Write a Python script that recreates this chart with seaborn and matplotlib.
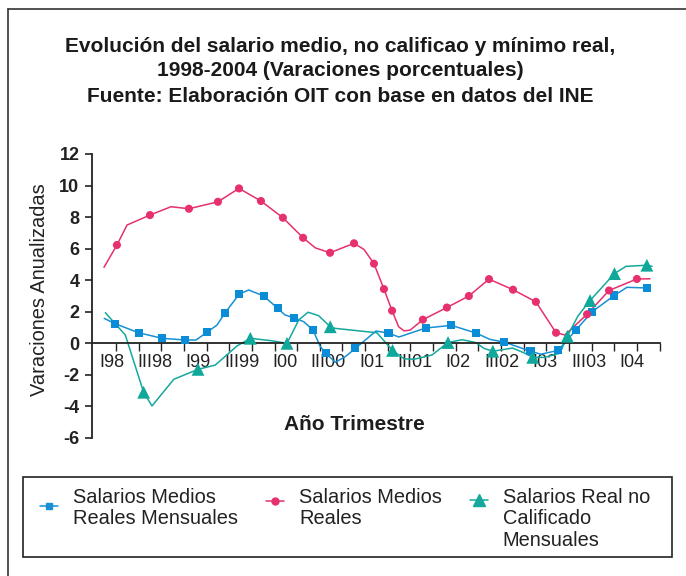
import numpy as np
import seaborn as sns
import matplotlib.pyplot as plt
from matplotlib.lines import Line2D
from matplotlib.patches import Rectangle

# x is measured in quarters along the axis ticks (0 = first tick, I98)
# Salarios Medios Reales Mensuales (line vertices and square markers)
mens_line_x = [-0.52, -0.03, 1.00, 2.03, 3.06, 3.53, 4.02, 4.46, 4.80, 5.44, 5.86, 6.52, 7.14, 7.46,
               7.85, 8.29, 8.70, 9.02, 9.27, 9.68, 10.12, 10.57, 11.48, 12.03, 12.49, 13.67, 14.81,
               15.90, 16.51, 17.14, 18.30, 18.76, 19.52, 20.30, 21.02, 22.00, 22.56, 23.43]
mens_line_y = [1.58, 1.24, 0.67, 0.32, 0.21, 0.21, 0.70, 1.16, 1.90, 3.12, 3.38, 3.00, 2.22, 1.80,
               1.62, 1.37, 0.84, -0.21, -0.63, -1.20, -0.85, -0.32, 0.78, 0.65, 0.40, 0.97, 1.14,
               0.65, 0.25, 0.08, -0.50, -0.69, -0.45, 0.83, 2.00, 3.03, 3.55, 3.51]
mens_mark_x = [-0.03, 1.00, 2.03, 3.06, 4.02, 4.80, 5.44, 6.52, 7.14, 7.85, 8.70, 9.27, 10.57, 12.03,
               13.67, 14.81, 15.90, 17.14, 18.30, 19.52, 20.30, 21.02, 22.00, 23.43]
mens_mark_y = [1.24, 0.67, 0.32, 0.21, 0.70, 1.90, 3.12, 3.00, 2.22, 1.62, 0.84, -0.63, -0.32, 0.65,
               0.97, 1.14, 0.65, 0.08, -0.50, -0.45, 0.83, 2.00, 3.03, 3.51]

# Salarios Medios Reales (circles)
medios_line_x = [-0.53, 0.04, 0.49, 1.50, 2.43, 3.22, 4.50, 5.43, 6.40, 7.37, 8.26, 8.80, 9.45, 10.51,
                 10.95, 11.39, 11.83, 12.19, 12.48, 12.72, 12.99, 13.55, 14.61, 15.58, 16.47, 17.53,
                 18.54, 19.43, 19.82, 20.80, 21.77, 23.00, 23.58]
medios_line_y = [4.82, 6.23, 7.50, 8.13, 8.66, 8.53, 8.97, 9.82, 9.02, 7.96, 6.69, 6.05, 5.74, 6.34,
                 5.95, 5.05, 3.44, 2.07, 1.05, 0.79, 0.84, 1.50, 2.27, 3.00, 4.07, 3.40,
                 2.63, 0.67, 0.53, 1.84, 3.35, 4.08, 4.09]
medios_mark_x = [0.04, 1.50, 3.22, 4.50, 5.43, 6.40, 7.37, 8.26, 9.45, 10.51, 11.39, 11.83, 12.19,
                 13.55, 14.61, 15.58, 16.47, 17.53, 18.54, 19.43, 20.80, 21.77, 23.00]
medios_mark_y = [6.23, 8.13, 8.53, 8.97, 9.82, 9.02, 7.96, 6.69, 5.74, 6.34, 5.05, 3.44, 2.07,
                 1.50, 2.27, 3.00, 4.07, 3.40, 2.63, 0.67, 1.84, 3.35, 4.08]

# Salarios Real no Calificado Mensuales (triangles)
nocal_line_x = [-0.47, 0.41, 1.22, 1.59, 2.55, 3.62, 4.38, 5.34, 5.93, 6.89, 7.55, 8.07, 8.48, 8.95,
                9.46, 9.67, 11.52, 12.21, 12.72, 13.16, 13.95, 14.66, 15.28, 15.89, 16.25, 16.64,
                17.51, 18.06, 18.40, 18.92, 19.60, 19.93, 20.40, 20.93, 22.01, 22.52, 23.44, 23.67]
nocal_line_y = [1.94, 0.53, -3.10, -3.97, -2.28, -1.65, -1.38, -0.17, 0.32, 0.16, 0.00, 1.48, 1.97, 1.75,
                1.05, 0.95, 0.67, -0.45, -0.98, -1.01, -0.74, 0.05, 0.23, 0.05, -0.32, -0.50,
                -0.30, -0.63, -0.89, -0.89, -0.63, 0.45, 1.74, 2.71, 4.42, 4.88, 4.95, 4.88]
nocal_mark_x = [1.22, 3.62, 5.93, 7.55, 9.46, 12.21, 14.66, 16.64, 18.40, 19.93, 20.93, 22.01, 23.44]
nocal_mark_y = [-3.10, -1.65, 0.32, 0.00, 1.05, -0.45, 0.05, -0.50, -0.89, 0.45, 2.71, 4.42, 4.95]

tick_labels = ['I98', 'III98', 'I99', 'III99', 'I00', 'III00', 'I01', 'III01',
               'I02', 'III02', 'I03', 'III03', 'I04']
legend_labels = ['Salarios Medios\nReales Mensuales', 'Salarios Medios\nReales',
                 'Salarios Real no\nCalificado\nMensuales']

c_blue = '#1790d5'
c_pink = '#e6306f'
c_teal = '#15a89c'

sns.set_style('white')
plt.rcParams['font.family'] = ['Liberation Sans', 'DejaVu Sans']
plt.rcParams['axes.unicode_minus'] = False

W, H = 686, 576
fig = plt.figure(figsize=(W / 100, H / 100), dpi=100)
ax = fig.add_axes([92 / W, 1 - 438 / H, 568 / W, 284 / H])

sns.lineplot(x=mens_line_x, y=mens_line_y, color=c_blue, lw=1.1, sort=False, estimator=None, ax=ax)
sns.lineplot(x=medios_line_x, y=medios_line_y, color=c_pink, lw=1.1, sort=False, estimator=None, ax=ax)
sns.lineplot(x=nocal_line_x, y=nocal_line_y, color=c_teal, lw=1.1, sort=False, estimator=None, ax=ax)

sns.scatterplot(x=mens_mark_x, y=mens_mark_y, marker='s', s=34, color='#0a8dd6', edgecolor='none', ax=ax, zorder=4)
sns.scatterplot(x=medios_mark_x, y=medios_mark_y, marker='o', s=34, color=c_pink, edgecolor='none', ax=ax, zorder=4)
sns.scatterplot(x=nocal_mark_x, y=nocal_mark_y, marker='^', s=85, color='#10a89a', edgecolor='none', ax=ax, zorder=4)

ax.set_xlim(-1.06, 24.02)
ax.set_ylim(-6, 12)
ax.set_xlabel('')
ax.set_ylabel('')

for side in ['top', 'right']:
    ax.spines[side].set_visible(False)
ax.spines['bottom'].set_position(('data', 0))
for side in ['left', 'bottom']:
    ax.spines[side].set_color('#222222')
    ax.spines[side].set_linewidth(1.3)
ax.patch.set_alpha(0)

ax.set_yticks(range(-6, 13, 2))
ax.tick_params(axis='y', left=True, direction='out', length=5, width=1.2, pad=4,
               labelsize=13, colors='#222222')
for lab in ax.get_yticklabels():
    lab.set_fontweight('bold')

ax.set_xticks(np.arange(0, 25), minor=True)
ax.set_xticks(np.linspace(-0.2, 22.78, len(tick_labels)))
ax.set_xticklabels(tick_labels)
ax.tick_params(axis='x', which='minor', bottom=True, direction='out', length=6, width=1, colors='#222222')
ax.tick_params(axis='x', which='major', bottom=True, length=0, pad=8, labelsize=13, colors='#222222')

ax.text(0.462, 0.046, 'Año Trimestre', transform=ax.transAxes, ha='center', va='center',
        fontsize=15, fontweight='bold', color='#1e1e1e')
fig.text(40 / W, 1 - 290 / H, 'Varaciones Anualizadas', rotation=90, ha='center', va='center',
         fontsize=14.4, color='#222222')

titles = ['Evolución del salario medio, no calificao y mínimo real,',
          '1998-2004 (Varaciones porcentuales)',
          'Fuente: Elaboración OIT con base en datos del INE']
for i, t in enumerate(titles):
    fig.text(340 / W, 1 - (46 + 25 * i) / H, t, ha='center', va='center',
             fontsize=15, fontweight='bold', color='#1a1a1a')

# pad the labels to three lines so every entry starts at the top of the box
padded = [lab + '\n ' * (2 - lab.count('\n')) for lab in legend_labels]
handles = [Line2D([], [], color=c_blue, lw=1.1, marker='s', markersize=5),
           Line2D([], [], color=c_pink, lw=1.1, marker='o', markersize=5),
           Line2D([], [], color=c_teal, lw=1.1, marker='^', markersize=8)]
leg = fig.legend(handles, padded, loc='upper left', ncol=3, mode='expand',
                 bbox_to_anchor=(40 / W, 0, 610 / W, 1 - 488 / H), fontsize=14.4,
                 frameon=False, handlelength=0.9, handletextpad=0.75, columnspacing=1.0,
                 borderpad=0, borderaxespad=0)
for txt in leg.get_texts():
    txt.set_color('#222222')
    txt.set_linespacing(1.15)
# move the legend keys up next to the first lines of text
for h, dy in zip(leg.legend_handles, [9.5, 13.5, 14.0]):
    h.set_ydata(np.asarray(h.get_ydata()) + dy)

# legend box, outer frame lines on the left and top
fig.add_artist(Rectangle((23 / W, 1 - 557 / H), 649 / W, 80 / H, fill=False,
                         edgecolor='#222222', lw=1.2))
fig.add_artist(Line2D([8 / W, 8 / W], [0, 1 - 9 / H], color='#333333', lw=1.2))
fig.add_artist(Line2D([8 / W, 1], [1 - 9 / H, 1 - 9 / H], color='#333333', lw=1.2))

fig.savefig('out.png', dpi=100)
